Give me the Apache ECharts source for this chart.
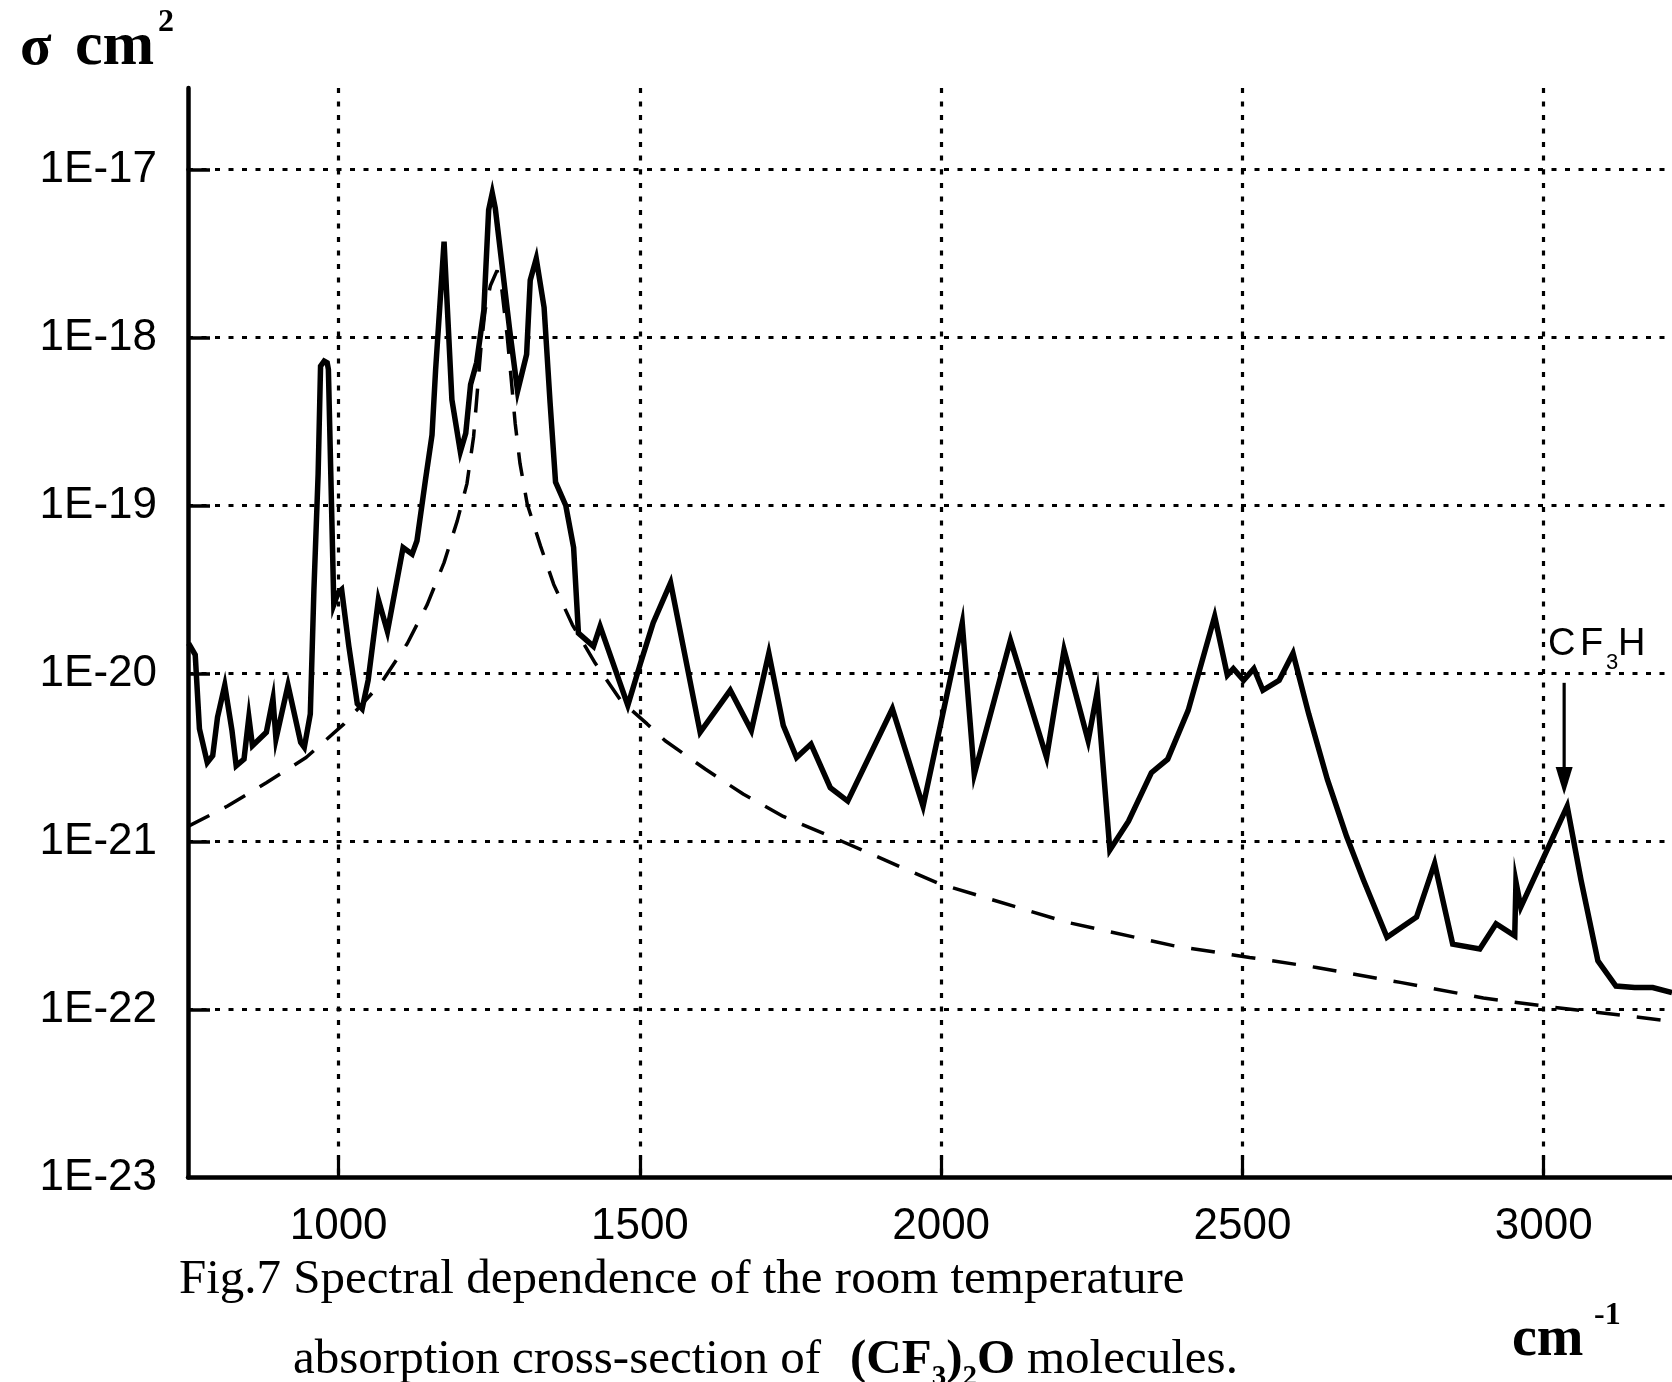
<!DOCTYPE html>
<html>
<head>
<meta charset="utf-8">
<script src="https://cdn.jsdelivr.net/npm/echarts@6.0.0/dist/echarts.min.js"></script>
<style>
html,body{margin:0;padding:0;background:#fff;}
#chart{width:1672px;height:1382px;}
</style>
</head>
<body>
<div id="chart"></div>
<script>
// Measured absorption cross-section (solid line)
const measWavenumber = [751,762,769,782,791,799,811,823,830,843,851,857,880,891,896,916,937,943,953,959,966,970,976,981,983,992,999,1005,1017,1031,1039,1049,1066,1081,1107,1122,1130,1144,1155,1161,1175,1188,1202,1211,1219,1229,1241,1249,1255,1260,1284,1297,1312,1318,1328,1341,1351,1360,1377,1390,1398,1423,1434,1480,1501,1522,1551,1600,1650,1685,1714,1738,1760,1784,1816,1845,1919,1970,2035,2055,2115,2175,2204,2244,2259,2280,2311,2349,2376,2410,2454,2475,2485,2502,2519,2534,2561,2584,2610,2641,2673,2701,2740,2789,2819,2849,2894,2921,2952,2954,2962,3039,3062,3090,3120,3151,3181,3213];
const measSigma = [1.51e-20,1.29e-20,4.68e-21,2.95e-21,3.24e-21,5.50e-21,8.51e-21,4.57e-21,2.82e-21,3.09e-21,5.50e-21,3.72e-21,4.47e-21,7.08e-21,4.07e-21,8.51e-21,3.89e-21,3.63e-21,5.75e-21,3.16e-20,1.55e-19,6.76e-19,7.24e-19,7.08e-19,6.46e-19,2.57e-20,3.02e-20,3.16e-20,1.45e-20,6.61e-21,6.17e-21,9.12e-21,2.75e-20,1.78e-20,5.62e-20,5.13e-20,6.17e-20,1.41e-19,2.63e-19,6.46e-19,3.72e-18,4.27e-19,2.09e-19,2.69e-19,5.25e-19,7.08e-19,1.45e-18,5.75e-18,7.24e-18,5.89e-18,1.10e-18,4.79e-19,7.94e-19,2.19e-18,2.95e-18,1.51e-18,4.07e-19,1.38e-19,1.00e-19,5.62e-20,1.74e-20,1.45e-20,1.91e-20,6.46e-21,1.15e-20,2.00e-20,3.47e-20,4.47e-21,7.94e-21,4.57e-21,1.32e-20,4.90e-21,3.16e-21,3.80e-21,2.09e-21,1.74e-21,6.17e-21,1.62e-21,2.00e-20,2.51e-21,1.58e-20,3.16e-21,1.38e-20,3.98e-21,7.76e-21,8.91e-22,1.32e-21,2.57e-21,3.09e-21,6.03e-21,2.19e-20,9.77e-21,1.07e-20,9.12e-21,1.07e-20,7.94e-21,9.12e-21,1.32e-20,5.75e-21,2.34e-21,1.07e-21,5.89e-22,2.69e-22,3.55e-22,7.41e-22,2.45e-22,2.29e-22,3.24e-22,2.75e-22,5.75e-22,4.07e-22,1.62e-21,5.89e-22,1.95e-22,1.38e-22,1.35e-22,1.35e-22,1.26e-22];

// Fitted band contour (dashed line)
const fitWavenumber = [750,815,880,946,1009,1070,1114,1147,1175,1197,1213,1224,1236,1243,1252,1263,1271,1280,1286,1293,1301,1313,1335,1357,1388,1426,1468,1512,1542,1609,1672,1738,1836,1996,2208,2385,2512,2623,2762,2900,2999,3213];
const fitSigma = [1.23e-21,1.62e-21,2.24e-21,3.16e-21,5.01e-21,8.71e-21,1.51e-20,2.57e-20,4.57e-20,8.13e-20,1.35e-19,2.57e-19,8.51e-19,1.45e-18,2.04e-18,2.51e-18,1.91e-18,1.00e-18,5.89e-19,3.09e-19,1.78e-19,1.02e-19,5.75e-20,3.39e-20,1.95e-20,1.15e-20,6.92e-21,5.01e-21,3.98e-21,2.69e-21,1.91e-21,1.41e-21,1.00e-21,5.62e-22,3.31e-22,2.40e-22,2.04e-22,1.78e-22,1.45e-22,1.17e-22,1.05e-22,8.51e-23];

// Axis ranges / ticks
const xMin = 750, xMax = 3213;
const yMin = 1e-23, yMax = 1e-17;
const yTickValues = [1e-23, 1e-22, 1e-21, 1e-20, 1e-19, 1e-18, 1e-17];
const yTickLabels = ['1E-23','1E-22','1E-21','1E-20','1E-19','1E-18','1E-17'];

// CF3H arrow annotation (wavenumber, sigma)
const arrowX = 3034;
const arrowTopSigma = 8.8e-21;
const arrowHeadSigma = 2.29e-21;

const chart = echarts.init(document.getElementById('chart'), null, {renderer: 'canvas'});

const dotted = {color: '#000', width: 3.2, type: [5, 8.5]};

const mctx = document.createElement('canvas').getContext('2d');
function tw(text, font) { mctx.font = font; return mctx.measureText(text).width; }
function txt(x, base, text, font) {
  const size = parseFloat(font.match(/([\d.]+)px/)[1]);
  return {type: 'text', x: x, y: base - 0.34 * size, silent: true, z: 100,
    style: {text: text, font: font, fill: '#000', align: 'left', verticalAlign: 'middle'}};
}

const SER = '"Liberation Serif", "Times New Roman", serif';
const SANS = '"Liberation Sans", Arial, sans-serif';
const graphics = [];
// y-axis unit
graphics.push(txt(20, 69, 'σ', 'bold 58px ' + SER));
graphics.push(txt(75, 69, 'cm', 'bold 62px ' + SER));
graphics.push(txt(158, 34, '2', 'bold 32px ' + SER));
// x-axis unit
graphics.push(txt(1512, 1360, 'cm', 'bold 56px ' + SER));
graphics.push(txt(1594, 1327, '-1', 'bold 32px ' + SER));
// caption
const capR = '49px ' + SER, capB = 'bold 49px ' + SER, capS = 'bold 29px ' + SER;
graphics.push(txt(179, 1297, 'Fig.7 Spectral dependence of the room temperature', capR));
graphics.push(txt(293, 1377, 'absorption cross-section of', capR));
(function () {
  let x = 850;
  const parts = [['(CF', capB, 0], ['3', capS, 10], [')', capB, 0], ['2', capS, 10], ['O', capB, 0]];
  parts.forEach(p => { graphics.push(txt(x, 1377 + p[2], p[0], p[1])); x += tw(p[0], p[1]); });
})();
graphics.push(txt(1027, 1377, 'molecules.', capR));
// CF3H label
graphics.push(txt(1548, 657, 'C', '38px ' + SANS));
graphics.push(txt(1580, 657, 'F', '38px ' + SANS));
graphics.push(txt(1606, 670, '3', '22px ' + SANS));
graphics.push(txt(1618, 657, 'H', '38px ' + SANS));

function yLabel(v) {
  const e = Math.round(Math.log10(v));
  return yTickLabels[e + 23] || '';
}

const option = {
  animation: false,
  backgroundColor: '#fff',
  grid: [
    {left: 188, right: 0, top: 169.5, bottom: 204.5, containLabel: false, outerBoundsMode: 'none'},
    {left: 188, right: 0, top: 88, bottom: 1212.5, containLabel: false, outerBoundsMode: 'none'}
  ],
  xAxis: [
    {
      type: 'value', gridIndex: 0, min: xMin, max: xMax, splitNumber: 5,
      axisLine: {show: true, onZero: false, lineStyle: {color: '#000', width: 4.5}},
      axisTick: {show: true, inside: true, length: 22, lineStyle: {color: '#000', width: 3.2}},
      axisLabel: {show: true, margin: 27, color: '#000', fontFamily: SANS, fontSize: 44,
        showMinLabel: false, showMaxLabel: false,
        formatter: function (v) { return String(v); }},
      splitLine: {show: true, showMinLine: false, showMaxLine: false, lineStyle: dotted}
    },
    {
      type: 'value', gridIndex: 1, min: xMin, max: xMax, splitNumber: 5,
      axisLine: {show: false}, axisTick: {show: false}, axisLabel: {show: false},
      splitLine: {show: true, showMinLine: false, showMaxLine: false, lineStyle: dotted}
    }
  ],
  yAxis: [
    {
      type: 'log', logBase: 10, gridIndex: 0, min: yMin, max: yMax, splitNumber: 6,
      axisLine: {show: true, onZero: false, lineStyle: {color: '#000', width: 4.5}},
      axisTick: {show: true, inside: true, length: 22, lineStyle: {color: '#000', width: 3.5}},
      axisLabel: {show: true, margin: 31, color: '#000', fontFamily: SANS, fontSize: 44,
        customValues: yTickValues,
        showMinLabel: true, showMaxLabel: true, hideOverlap: false,
        padding: [0, 0, 9, 0],
        formatter: yLabel},
      splitLine: {show: true, showMinLine: false, lineStyle: dotted}
    },
    {
      type: 'value', gridIndex: 1, min: 0, max: 1,
      axisLine: {show: true, onZero: false, lineStyle: {color: '#000', width: 4.5}},
      axisTick: {show: false}, axisLabel: {show: false}, splitLine: {show: false}
    }
  ],
  series: [
    {
      name: 'fit', type: 'line', xAxisIndex: 0, yAxisIndex: 0, silent: true,
      data: fitWavenumber.map((x, i) => [x, fitSigma[i]]),
      symbol: 'none', z: 2,
      lineStyle: {color: '#000', width: 3.5, type: [24, 17]}
    },
    {
      name: 'measured', type: 'line', xAxisIndex: 0, yAxisIndex: 0, silent: true,
      data: measWavenumber.map((x, i) => [x, measSigma[i]]),
      symbol: 'none', z: 3,
      lineStyle: {color: '#000', width: 5.5, join: 'miter'}
    },
    {
      name: 'arrowShaft', type: 'line', xAxisIndex: 0, yAxisIndex: 0, silent: true,
      data: [[arrowX, arrowTopSigma], [arrowX, arrowHeadSigma]],
      symbol: 'none', z: 4, lineStyle: {color: '#000', width: 3.2}
    },
    {
      name: 'arrowHead', type: 'scatter', xAxisIndex: 0, yAxisIndex: 0, silent: true,
      data: [[arrowX, arrowHeadSigma]],
      symbol: 'path://M0,0L16,0L8,28Z', symbolSize: [17, 28], z: 4,
      itemStyle: {color: '#000', opacity: 1}
    }
  ],
  graphic: graphics
};
chart.setOption(option);
</script>
</body>
</html>
